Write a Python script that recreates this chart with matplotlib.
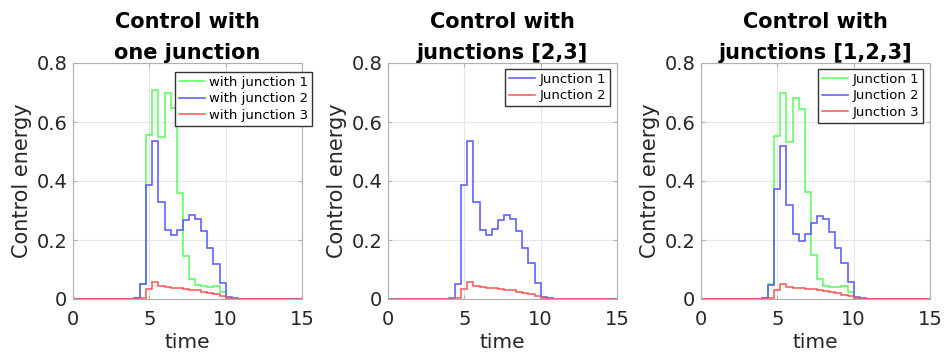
import matplotlib
matplotlib.use("Agg")
import matplotlib.pyplot as plt
import numpy as np

plt.rcParams['font.family'] = ['DejaVu Sans']

# step data: bins of width 0.4 starting at t = 4.0 (zero elsewhere)
t_start = 4.0
dt = 0.4
t_end = 15.0

# panel 1: control with one junction
p1_j1 = [0.005, 0.050, 0.557, 0.708, 0.548, 0.700, 0.648, 0.358, 0.145, 0.069,
         0.049, 0.043, 0.040, 0.043, 0.024, 0.004, 0.0]
p1_j2 = [0.005, 0.051, 0.386, 0.534, 0.330, 0.233, 0.217, 0.235, 0.269, 0.286,
         0.272, 0.230, 0.174, 0.120, 0.055, 0.006, 0.002]
p1_j3 = [0.0, 0.005, 0.033, 0.056, 0.043, 0.039, 0.038, 0.036, 0.035, 0.032,
         0.029, 0.025, 0.021, 0.016, 0.011, 0.004, 0.0]

# panel 2: junctions [2,3]
p2_j1 = [0.005, 0.051, 0.386, 0.535, 0.330, 0.233, 0.217, 0.238, 0.269, 0.286,
         0.272, 0.230, 0.174, 0.122, 0.055, 0.006, 0.002]
p2_j2 = [0.0, 0.005, 0.033, 0.056, 0.043, 0.039, 0.038, 0.036, 0.035, 0.032,
         0.029, 0.025, 0.021, 0.016, 0.011, 0.004, 0.0]

# panel 3: junctions [1,2,3]
p3_j1 = [0.005, 0.050, 0.551, 0.699, 0.533, 0.682, 0.643, 0.364, 0.148, 0.069,
         0.045, 0.040, 0.040, 0.045, 0.024, 0.003, 0.0]
p3_j2 = [0.005, 0.049, 0.373, 0.520, 0.320, 0.222, 0.197, 0.222, 0.256, 0.280,
         0.270, 0.228, 0.174, 0.123, 0.058, 0.006, 0.002]
p3_j3 = [0.0, 0.005, 0.032, 0.051, 0.041, 0.037, 0.036, 0.035, 0.033, 0.030,
         0.027, 0.023, 0.019, 0.015, 0.010, 0.004, 0.0]

titles = ['Control with\none junction', 'Control with\njunctions [2,3]',
          'Control with\njunctions [1,2,3]']
labels1 = ['with junction 1', 'with junction 2', 'with junction 3']
labels2 = ['Junction 1', 'Junction 2']
labels3 = ['Junction 1', 'Junction 2', 'Junction 3']

GREEN = '#55ff55'
BLUE = '#5555ff'
RED = '#ff5555'

edges = np.append(np.arange(0, t_end, dt), t_end)
n_bins = len(edges) - 1
i0 = int(round(t_start / dt))


def full(vals):
    out = np.zeros(n_bins)
    out[i0:i0 + len(vals)] = vals
    return out


W, H = 944, 358
fig = plt.figure(figsize=(W / 100, H / 100), dpi=100)

ax_left = [73, 388, 701]
ax_w, ax_top, ax_bot = 229, 63, 299
legend_anchor = [(312, 72), (610, 69), (923, 69)]
panels = [
    ([p1_j1, p1_j2, p1_j3], [GREEN, BLUE, RED], labels1),
    ([p2_j1, p2_j2], [BLUE, RED], labels2),
    ([p3_j1, p3_j2, p3_j3], [GREEN, BLUE, RED], labels3),
]

for k, (series, colors, labels) in enumerate(panels):
    ax = fig.add_axes([ax_left[k] / W, (H - ax_bot) / H, ax_w / W,
                       (ax_bot - ax_top) / H])
    for vals, c, lab in zip(series, colors, labels):
        ax.stairs(full(vals), edges, color=c, lw=1.1, label=lab)
    ax.set_xlim(0, 15)
    ax.set_ylim(0, 0.8)
    ax.set_xticks([0, 5, 10, 15])
    ax.set_yticks([0, 0.2, 0.4, 0.6, 0.8])
    ax.set_yticklabels(['0', '0.2', '0.4', '0.6', '0.8'])
    ax.grid(True, color='#e6e6e6', lw=0.8)
    ax.set_axisbelow(True)
    for s in ax.spines.values():
        s.set_color('#b0b0b0')
        s.set_linewidth(0.8)
    ax.tick_params(direction='in', length=3, color='#b0b0b0', top=True,
                   right=True, labelsize=14, labelcolor='#262626', pad=4)
    ax.tick_params(axis='x', pad=8)
    ax.set_xlabel('time', fontsize=14.5, color='#262626', labelpad=3)
    ax.set_ylabel('Control energy', fontsize=15, color='#262626', labelpad=3)
    ax.set_title(titles[k], fontsize=15, fontweight='bold', linespacing=1.65,
                 pad=3)
    ax_anchor = legend_anchor[k]
    ax.legend(loc='upper right',
              bbox_to_anchor=(ax_anchor[0] / W, 1 - ax_anchor[1] / H),
              bbox_transform=fig.transFigure, borderaxespad=0,
              fontsize=9.5, handlelength=2.0, handletextpad=0.3,
              labelspacing=0.25, borderpad=0.3, fancybox=False,
              edgecolor='#333333', framealpha=1)

fig.savefig('out.png', dpi=100)
